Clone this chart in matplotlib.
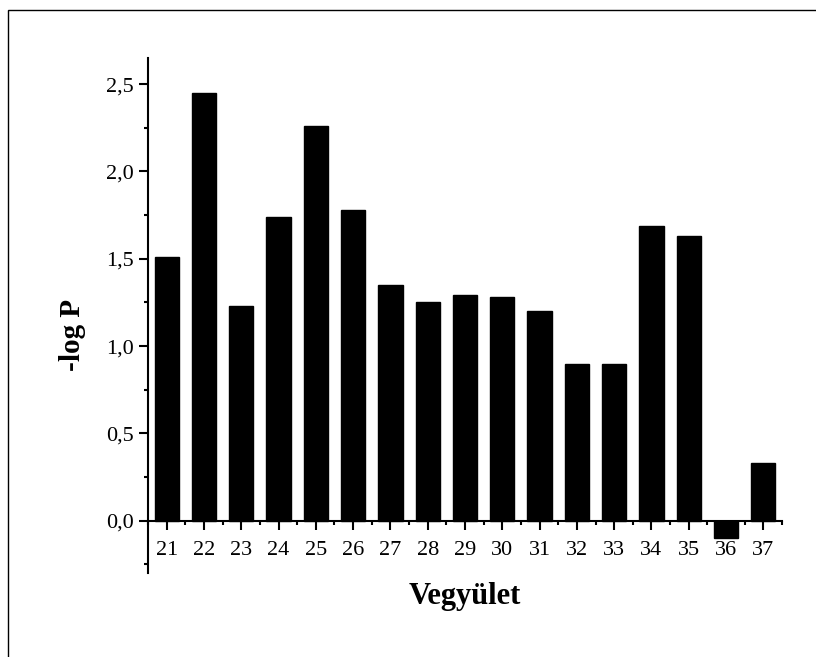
import matplotlib
matplotlib.use("Agg")
import matplotlib.pyplot as plt
from matplotlib.patches import Rectangle
from matplotlib.ticker import MultipleLocator, FuncFormatter

compounds = [21, 22, 23, 24, 25, 26, 27, 28, 29, 30, 31, 32, 33, 34, 35, 36, 37]
neg_log_p = [1.51, 2.45, 1.23, 1.74, 2.26, 1.78, 1.35, 1.25, 1.29, 1.28,
             1.20, 0.90, 0.90, 1.69, 1.63, -0.10, 0.33]

plt.rcParams['font.family'] = ['Liberation Serif', 'DejaVu Serif']

fig = plt.figure(figsize=(8.16, 6.57), dpi=100)
ax = fig.add_axes([148/816, 84/657, (782-148)/816, (573-58)/657])

ax.bar(compounds, neg_log_p, width=0.65, color='black', edgecolor='black')

ax.set_xlim(20.5, 37.5)
ax.set_ylim(-0.30, 2.65)

ax.spines['top'].set_visible(False)
ax.spines['right'].set_visible(False)
ax.spines['bottom'].set_position(('data', 0))
ax.spines['left'].set_linewidth(1.5)
ax.spines['bottom'].set_linewidth(1.5)

ax.set_xticks(compounds)
ax.xaxis.set_minor_locator(MultipleLocator(1, offset=0.5))
ax.yaxis.set_major_locator(MultipleLocator(0.5))
ax.yaxis.set_minor_locator(MultipleLocator(0.25))
ax.yaxis.set_major_formatter(FuncFormatter(lambda v, p: f"{v:.1f}".replace('.', ',')))

ax.tick_params(which='major', direction='out', length=6.5, width=1.5, labelsize=16, pad=4)
ax.tick_params(which='minor', direction='out', length=3, width=1.5)
ax.tick_params(axis='x', which='major', pad=8)

ax.set_ylabel('-log P', fontsize=21, fontweight='bold')
ax.set_xlabel('Vegyület', fontsize=22, fontweight='bold')
ax.xaxis.set_label_coords(0.5, -0.018)
ax.yaxis.set_label_coords(-0.098, 0.462)

# outer frame (only left and top edges are inside the picture)
fig.add_artist(Rectangle((8/816, -0.1), 1.2, (647/657) + 0.1, transform=fig.transFigure,
                         fill=False, edgecolor='black', linewidth=1.0))

fig.savefig('out.png', dpi=100)
